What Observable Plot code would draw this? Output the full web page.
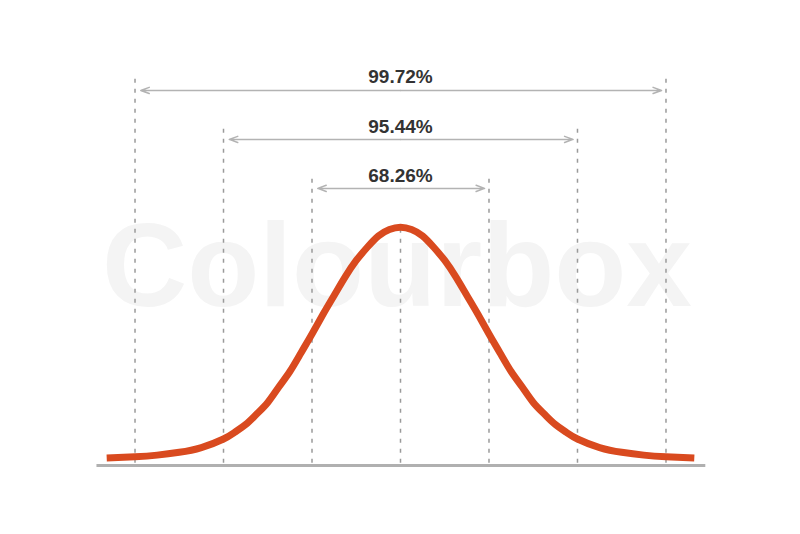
<!DOCTYPE html>
<html>
<head>
<meta charset="utf-8">
<script src="https://cdn.jsdelivr.net/npm/d3@7"></script>
<script src="https://cdn.jsdelivr.net/npm/@observablehq/plot@0.6"></script>
<style>
  html, body { margin: 0; padding: 0; background: #ffffff; }
  #chart svg { display: block; }
</style>
</head>
<body>
<div id="chart"></div>
<script>
// Curve (x in standard deviations, y as density-like height)
const curveX = [-3.32, -3, -2.75, -2.5, -2.25, -2, -1.875, -1.75, -1.625, -1.5, -1.375, -1.25, -1.125, -1,
                -0.875, -0.75, -0.625, -0.5, -0.375, -0.25, -0.125, 0,
                0.125, 0.25, 0.375, 0.5, 0.625, 0.75, 0.875, 1, 1.125, 1.25, 1.375, 1.5, 1.625, 1.75, 1.875, 2,
                2.25, 2.5, 2.75, 3, 3.32];
const curveY = [0.0127, 0.0147, 0.0174, 0.0221, 0.0301, 0.0444, 0.0556, 0.0687, 0.0862, 0.1055, 0.1314, 0.1574, 0.1884, 0.2202,
                0.2532, 0.2847, 0.3158, 0.3433, 0.3654, 0.3843, 0.3952, 0.3990,
                0.3952, 0.3843, 0.3654, 0.3433, 0.3158, 0.2847, 0.2532, 0.2202, 0.1884, 0.1574, 0.1314, 0.1055, 0.0862, 0.0687, 0.0556, 0.0444,
                0.0301, 0.0221, 0.0174, 0.0147, 0.0127];

// Vertical dashed guides at each sigma
const sigmaMarks = [-3, -2, -1, 0, 1, 2, 3];
const guideTops  = [0.653, 0.569, 0.489, 0.399, 0.489, 0.569, 0.653];

// Interval arrows and labels
const spans  = [1, 2, 3];
const labels = ["68.26%", "95.44%", "99.72%"];
const arrowY = [0.464, 0.546, 0.628];
const labelY = [0.4856, 0.5668, 0.6505];

const watermark = "Colourbox";

const curve = curveX.map((x, i) => ({x, y: curveY[i]}));
const guides = sigmaMarks.map((x, i) => ({x, y1: 0.004, y2: guideTops[i]}));
const arrows = [];
spans.forEach((s, i) => {
  arrows.push({x1: 0, x2: -(s - 0.065), y: arrowY[i]});
  arrows.push({x1: 0, x2:  (s - 0.05), y: arrowY[i]});
});
const texts = labels.map((t, i) => ({t, y: labelY[i]}));

const chart = Plot.plot({
  width: 800,
  height: 534,
  margin: 0,
  style: {background: "#ffffff"},
  x: {domain: [-4.52, 4.52], axis: null},
  y: {domain: [-0.1155, 0.7786], axis: null},
  marks: [
    Plot.text([{t: watermark, x: -0.04, y: 0.33}], {
      x: "x", y: "y", text: "t",
      fontSize: 118, fontWeight: "bold",
      fontFamily: "Liberation Sans, Arial, sans-serif",
      fill: "#f4f4f4"
    }),
    Plot.ruleY([{y: 0, x1: -3.43, x2: 3.45}], {
      y: "y", x1: "x1", x2: "x2", stroke: "#b0b0b0", strokeWidth: 3
    }),
    Plot.ruleX(guides, {
      x: "x", y1: "y1", y2: "y2",
      stroke: "#9a9a9a", strokeWidth: 1.5, strokeDasharray: "4,6"
    }),
    Plot.arrow(arrows, {
      x1: "x1", x2: "x2", y1: "y", y2: "y",
      stroke: "#b3b3b3", strokeWidth: 1.5,
      headLength: 9, headAngle: 40
    }),
    Plot.text(texts, {
      x: 0, y: "y", text: "t",
      fontSize: 19, fontWeight: "bold",
      fontFamily: "Liberation Sans, Arial, sans-serif",
      fill: "#333333"
    }),
    Plot.line(curve, {
      x: "x", y: "y", curve: "natural",
      stroke: "#d94a1f", strokeWidth: 7, strokeLinecap: "butt"
    })
  ]
});
document.getElementById("chart").appendChild(chart);
</script>
</body>
</html>
